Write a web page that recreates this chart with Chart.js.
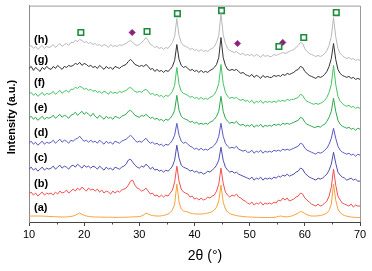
<!DOCTYPE html>
<html><head><meta charset="utf-8">
<script src="https://cdn.jsdelivr.net/npm/chart.js@4"></script>
<style>html,body{margin:0;padding:0;background:#fff;}canvas{display:block;}</style>
</head><body>
<canvas id="c" width="372" height="271"></canvas>
<script>
const twoTheta = [10,10.4,10.8,11.2,11.6,12,12.4,12.8,13.2,13.6,
14,14.4,14.8,15.2,15.6,16,16.4,16.8,17.2,17.6,
18,18.4,18.8,19.2,19.6,20,20.4,20.8,21.2,21.6,
22,22.4,22.8,23.2,23.6,24,24.4,24.8,25.2,25.6,
26,26.4,26.8,27.2,27.6,28,28.4,28.8,29.2,29.6,
30,30.4,30.8,31.2,31.6,32,32.4,32.8,33.2,33.6,
34,34.4,34.8,35.2,35.6,36,36.4,36.8,37.2,37.6,
38,38.4,38.8,39.2,39.6,40,40.4,40.8,41.2,41.6,
42,42.4,42.8,43.2,43.6,44,44.4,44.8,45.2,45.6,
46,46.4,46.8,47.2,47.6,48,48.4,48.8,49.2,49.6,
50,50.4,50.8,51.2,51.6,52,52.4,52.8,53.2,53.6,
54,54.4,54.8,55.2,55.6,56,56.4,56.8,57.2,57.6,
58,58.4,58.8,59.2,59.6,60,60.4,60.8,61.2,61.6,
62,62.4,62.8,63.2,63.6,64,64.4,64.8,65.2,65.6,
66,66.4,66.8,67.2,67.6,68,68.4,68.8,69.2,69.6,
70];

const seriesA = [6,6,6,6,6,6,5.9,5.8,5.7,5.6,
5.5,5.4,5.3,5.2,5.1,5,5,5.1,5.3,5.6,
6,6.8,8,9,7.8,6.7,6,5.6,5.3,5.1,
5,5,4.9,4.9,4.8,4.8,4.8,4.8,4.7,4.7,
4.7,4.7,4.7,4.8,4.8,4.9,5,5.1,5.2,5.3,
5.5,6,7.2,9,8,7,6.5,6.2,6,6,
6.2,6.6,7.2,8,9.5,12,18,38,20,13,
11,10.5,10,9,8.5,8.2,8,8,8,8.2,
8.5,9,9.5,10.5,12,15,21,37,20,13,
10,8.5,7.5,7,6.5,6,5.8,5.5,5.3,5.1,
5,4.9,4.8,4.7,4.6,4.6,4.5,4.5,4.5,4.5,
4.5,4.6,5,5.5,6,5.6,5.2,5.2,5.5,6,
6.8,7.8,9,10.5,10,8.5,7.3,6.5,6,6,
6,6.2,6.5,7,7.8,9,11.5,18,38,22,
13,9.5,7.5,6.5,5.8,5.3,5,4.8,4.6,4.5,
4.4];

const seriesB = [28,30,27,29,26,28,30,27,29,28,
29,27,30,28,31,29,30,32,29,31,
33,31,34,32,35,33,31,34,32,33,
31,33,30,32,29,31,30,28,31,29,
31,30,32,33,34,37,41,42,37,34,
33,31,32,34,31,28,29,26,27,25,
27,25,27,26,29,32,40,56,41,33,
30,29,28,25,26,23,24,22,24,22,
23,25,24,26,27,31,38,54,39,30,
27,25,27,26,28,25,24,22,21,19,
18,20,17,19,18,20,17,19,18,19,
18,20,19,22,21,24,22,24,21,22,
23,25,26,29,28,24,22,20,18,17,
16,18,16,17,19,21,26,35,53,37,
26,22,19,18,17,16,18,15,17,16,
16];

const seriesC = [53,55,52,54,51,53,55,52,54,53,
54,56,53,55,57,54,56,55,53,56,
57,55,58,56,54,57,55,56,54,56,
55,53,56,54,52,55,53,54,52,55,
54,53,55,56,58,62,63,60,57,55,
54,56,55,58,56,53,55,52,53,51,
52,50,52,51,53,56,62,77,64,57,
55,54,53,51,52,50,51,49,50,48,
49,51,50,52,54,57,62,75,62,55,
52,50,51,49,50,48,47,46,45,44,
43,45,42,44,43,45,42,44,43,44,
43,45,44,46,45,47,46,48,46,47,
48,50,51,54,53,49,47,45,44,43,
42,44,43,44,46,48,52,58,70,59,
50,47,45,44,42,43,44,42,43,41,
41];

const seriesD = [79,81,78,80,77,79,81,78,80,79,
80,82,79,81,83,80,82,81,79,82,
81,83,84,86,83,81,82,80,82,80,
81,79,82,80,78,81,79,80,78,81,
80,79,81,82,83,85,87,85,82,80,
81,80,82,84,81,79,80,78,79,77,
78,76,78,77,79,82,87,99,87,81,
79,80,78,76,75,73,74,72,74,72,
73,72,74,75,77,80,86,99,86,79,
76,74,75,74,76,73,72,71,72,70,
70,72,69,71,70,72,69,71,70,71,
70,72,71,72,71,73,72,73,72,73,
74,75,76,79,78,74,72,71,70,69,
68,70,69,70,72,74,78,84,94,84,
76,72,70,69,68,69,67,68,66,68,
67];

const seriesE = [104,106,103,105,102,104,106,103,105,104,
105,107,104,106,108,105,107,106,104,107,
108,110,107,109,111,108,110,108,106,109,
106,104,107,105,103,106,104,105,103,106,
105,104,106,107,108,111,112,110,107,106,
105,107,106,108,106,104,105,103,104,102,
103,101,103,102,104,107,112,127,112,106,
104,103,102,100,101,99,100,98,99,98,
99,98,100,101,103,106,111,126,111,104,
101,99,100,99,101,98,97,98,96,97,
96,98,95,97,96,98,95,97,96,97,
96,98,97,98,97,99,98,99,98,99,
100,101,102,105,104,100,98,97,96,95,
95,96,95,97,98,101,105,111,124,111,
102,98,96,95,94,95,93,94,92,94,
93];

const seriesF = [128,130,127,129,126,128,130,127,129,128,
129,131,128,130,132,129,131,132,130,133,
133,135,134,136,135,133,134,132,133,131,
132,130,131,129,131,130,128,131,129,130,
129,131,130,131,132,134,135,133,131,130,
131,130,132,133,131,128,129,127,128,126,
127,125,127,126,128,131,137,155,138,131,
129,128,127,125,126,124,125,123,125,123,
124,123,125,126,128,132,139,158,139,130,
126,124,125,124,125,123,122,123,121,122,
120,122,119,121,120,122,119,121,120,121,
120,121,120,122,121,122,121,123,122,123,
123,124,125,128,127,123,121,120,119,118,
119,118,119,120,122,125,130,138,157,138,
126,121,119,117,116,117,115,116,114,115,
114];

const seriesG = [154,156,152,155,153,151,155,153,156,154,
153,156,154,157,155,153,156,155,157,156,
157,159,158,160,157,159,158,156,157,155,
156,154,157,155,153,156,154,155,153,156,
155,154,156,157,158,161,163,161,158,157,
156,157,156,158,156,153,154,151,153,151,
152,150,152,151,153,156,162,178,163,157,
155,156,154,152,153,151,152,150,152,150,
151,150,152,153,155,158,165,185,165,157,
153,152,153,152,153,151,149,150,148,147,
146,148,145,147,146,144,147,145,146,145,
145,147,146,147,146,148,147,149,148,149,
150,152,153,156,155,151,149,147,146,145,
144,146,145,146,148,151,156,164,179,163,
153,149,147,146,145,146,144,145,143,144,
143];

const seriesH = [175,177,174,176,173,175,177,174,176,175,
176,178,175,177,179,176,178,179,177,180,
180,182,181,183,182,180,181,179,180,178,
179,177,178,176,178,177,175,178,176,177,
176,178,177,178,179,181,182,180,178,177,
178,180,182,185,182,178,177,175,176,174,
175,173,175,174,177,180,186,204,187,180,
177,176,175,173,174,172,173,171,173,171,
172,171,173,174,176,180,187,209,188,179,
174,172,171,170,171,169,168,169,167,168,
167,168,166,168,167,165,168,166,167,166,
166,168,167,168,169,170,169,170,171,172,
173,175,177,180,179,174,171,169,168,167,
166,167,166,167,169,172,177,186,205,186,
174,169,167,165,164,165,163,164,162,163,
162];

const sampleLabels = ['(a)','(b)','(c)','(d)','(e)','(f)','(g)','(h)'];
const labelLevels = [14,38,64,89,114,139,162,183];
const seriesColors = ['#f7a23c','#f05050','#4e4eb0','#5a5ac6','#2ca84c','#44c262','#333333','#b8b8b8'];

const squareX = [19.4,31.4,36.9,44.9,55.3,59.8,65.7];
const squareY = [190,191,209,212,176,185,210];
const diamondX = [28.7,47.8,56.0];
const diamondY = [190,179,180];

const xTicks = [10,20,30,40,50,60,70];
const xMinorTicks = [15,25,35,45,55,65];

const allSeries = [seriesA,seriesB,seriesC,seriesD,seriesE,seriesF,seriesG,seriesH];
const datasets = allSeries.map((s,i)=>({
  type:'line',
  data: twoTheta.map((x,j)=>({x:x,y:s[j]})),
  borderColor: seriesColors[i],
  borderWidth: 1,
  pointRadius: 0,
  tension: 0,
  fill: false
}));
datasets.push({
  type:'scatter',
  data: squareX.map((x,i)=>({x:x,y:squareY[i]})),
  pointStyle:'rect', pointRadius:3.9, borderColor:'#1c8c3c', borderWidth:1.6, backgroundColor:'#ffffff'
});
datasets.push({
  type:'scatter',
  data: diamondX.map((x,i)=>({x:x,y:diamondY[i]})),
  pointStyle:'rectRot', pointRadius:3.2, borderColor:'#8e1f7e', borderWidth:0.5, backgroundColor:'#8e1f7e'
});

const decor = {
  id:'decor',
  afterDraw(chart){
    const ctx = chart.ctx, a = chart.chartArea;
    const xs = chart.scales.x, ys = chart.scales.y;
    ctx.save();
    ctx.strokeStyle = '#9a9a9a'; ctx.lineWidth = 1;
    ctx.beginPath();
    ctx.moveTo(a.left, a.top+0.5); ctx.lineTo(a.right+0.5, a.top+0.5);
    ctx.lineTo(a.right+0.5, a.bottom);
    ctx.stroke();
    ctx.strokeStyle = '#444';
    ctx.beginPath();
    xMinorTicks.forEach(v=>{
      const px = Math.round(xs.getPixelForValue(v))+0.5;
      ctx.moveTo(px, a.bottom); ctx.lineTo(px, a.bottom+2.5);
    });
    ctx.stroke();
    ctx.fillStyle = '#000';
    ctx.font = 'bold 11px "Liberation Sans", Arial, sans-serif';
    ctx.textAlign = 'left'; ctx.textBaseline = 'middle';
    sampleLabels.forEach((t,i)=>{
      ctx.fillText(t, a.left+5, ys.getPixelForValue(labelLevels[i]));
    });
    ctx.font = '14px "Liberation Sans", Arial, sans-serif';
    ctx.textAlign = 'center';
    ctx.fillText('2\u03b8 (\u00b0)', 205, 256.5);
    ctx.translate(12, 117);
    ctx.rotate(-Math.PI/2);
    ctx.font = 'bold 11px "Liberation Sans", Arial, sans-serif';
    ctx.fillText('Intensity (a.u.)', 0, 0);
    ctx.restore();
  }
};

new Chart(document.getElementById('c'), {
  data: { datasets },
  options: {
    responsive:false, animation:false, devicePixelRatio:1,
    layout:{ padding:{ top:5, right:12, left:0, bottom:0 } },
    plugins:{ legend:{display:false}, tooltip:{enabled:false} },
    scales:{
      x:{ type:'linear', min:10, max:70,
        afterBuildTicks(s){ s.ticks = xTicks.map(v=>({value:v})); },
        afterFit(s){ s.height = 49; },
        ticks:{ color:'#000', padding:2, maxRotation:0, autoSkip:false, font:{family:'"Liberation Sans", Arial, sans-serif', size:11} },
        grid:{ display:true, drawOnChartArea:false, drawTicks:true, tickLength:4, color:'#444' },
        border:{ display:true, color:'#444', width:1 }
      },
      y:{ type:'linear', min:0, max:217,
        afterFit(s){ s.width = 29; },
        ticks:{ display:false },
        grid:{ display:false },
        border:{ display:true, color:'#8a8a8a', width:1 }
      }
    }
  },
  plugins:[decor]
});
</script>
</body></html>
